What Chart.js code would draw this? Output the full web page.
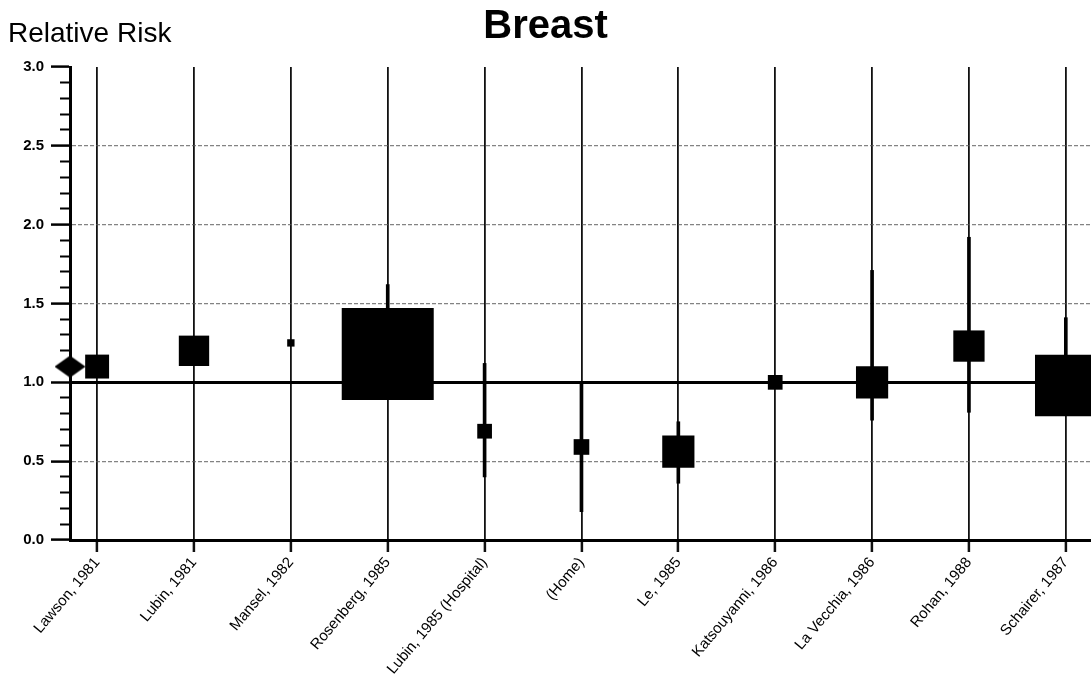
<!DOCTYPE html>
<html>
<head>
<meta charset="utf-8">
<script src="https://cdn.jsdelivr.net/npm/chart.js@4"></script>
<style>
  body { margin: 0; background: #fff; }
  #wrap { width: 1091px; height: 686px; }
</style>
</head>
<body>
<div id="wrap"><canvas id="myChart"></canvas></div>
<script>
// studies along the x axis
const studies = ['Lawson, 1981', 'Lubin, 1981', 'Mansel, 1982', 'Rosenberg, 1985',
  'Lubin, 1985 (Hospital)', '(Home)', 'Le, 1985', 'Katsouyanni, 1986',
  'La Vecchia, 1986', 'Rohan, 1988', 'Schairer, 1987'];
const relativeRisk = [1.10, 1.20, 1.25, 1.18, 0.69, 0.59, 0.56, 1.00, 1.00, 1.23, 0.98];
// confidence limits, null where they can't be seen
const ciLow  = [null, null, null, 0.90, 0.40, 0.18, 0.36, null, 0.76, 0.81, 0.80];
const ciHigh = [null, null, null, 1.62, 1.12, 1.00, 0.75, null, 1.71, 1.92, 1.41];
// relative study weight (biggest study = 100)
const studyWeight = [26, 33, 8, 100, 16, 17, 35, 16, 35, 34, 67];
const pooledRR = 1.10;

const chartTitle = 'Breast';
const yAxisTitle = 'Relative Risk';

const xMin = -0.28, xMax = 10.26;
const boxPx = 0.92; // px of box side per weight unit
const font = '"Liberation Sans", Arial, Helvetica, sans-serif';

function isMajor(v) {
  return Math.abs(v * 2 - Math.round(v * 2)) < 1e-6;
}

// diamond marker for the pooled estimate
function makeDiamond(w, h) {
  const c = document.createElement('canvas');
  c.width = w; c.height = h;
  const g = c.getContext('2d');
  g.fillStyle = '#000';
  g.beginPath();
  g.moveTo(0, h / 2);
  g.lineTo(w / 2, 0);
  g.lineTo(w, h / 2);
  g.lineTo(w / 2, h);
  g.closePath();
  g.fill();
  return c;
}

const cornerLabel = {
  id: 'cornerLabel',
  afterDraw(chart) {
    const ctx = chart.ctx;
    ctx.save();
    ctx.font = '28px ' + font;
    ctx.fillStyle = '#000';
    ctx.textBaseline = 'alphabetic';
    ctx.fillText(yAxisTitle, chart.chartArea.left - 62, chart.chartArea.top - 25);
    ctx.restore();
  }
};

const boxes = studies.map((s, i) => ({ x: i, y: relativeRisk[i] }));
const intervals = studies
  .map((s, i) => (ciLow[i] == null ? null : { x: i, y: [ciLow[i], ciHigh[i]] }))
  .filter(d => d !== null);

const ctx = document.getElementById('myChart');
const myChart = new Chart(ctx, {
  type: 'scatter',
  data: {
    datasets: [
      {
        label: 'Relative risk',
        data: boxes,
        pointStyle: 'rect',
        pointRadius: (c) => studyWeight[c.dataIndex] * boxPx / Math.SQRT2,
        pointHoverRadius: (c) => studyWeight[c.dataIndex] * boxPx / Math.SQRT2,
        backgroundColor: '#000',
        borderWidth: 0
      },
      {
        label: 'Pooled',
        data: [{ x: xMin, y: pooledRR }],
        pointStyle: makeDiamond(31, 22),
        clip: false
      },
      {
        type: 'bar',
        label: '95% CI',
        data: intervals,
        backgroundColor: '#000',
        barThickness: 3
      }
    ]
  },
  options: {
    responsive: true,
    maintainAspectRatio: false,
    animation: false,
    layout: { padding: 0, autoPadding: false },
    scales: {
      x: {
        type: 'linear',
        min: xMin,
        max: xMax,
        offset: false,
        afterBuildTicks: (axis) => {
          axis.ticks = studies.map((s, i) => ({ value: i }));
        },
        afterFit: (scale) => {
          scale.height = 146;
          scale.paddingLeft = 0;
          scale.paddingRight = 0;
        },
        grid: {
          offset: false,
          color: '#111',
          lineWidth: 1.8,
          tickLength: 12,
          tickWidth: 2.5
        },
        border: { color: '#000', width: 3 },
        ticks: {
          autoSkip: false,
          maxRotation: 50,
          minRotation: 50,
          padding: 2,
          color: '#000',
          font: { family: font, size: 15 },
          callback: (v) => studies[v] || ''
        }
      },
      y: {
        min: 0,
        max: 3,
        afterFit: (scale) => {
          scale.width = 70;
          scale.paddingTop = 0;
          scale.paddingBottom = 0;
        },
        grid: {
          color: (c) => {
            const v = c.tick.value;
            if (Math.abs(v - 1) < 1e-6) return '#000';
            if (v > 0.01 && v < 2.99 && isMajor(v)) return 'rgba(90,90,90,0.75)';
            return 'rgba(0,0,0,0)';
          },
          lineWidth: (c) => (Math.abs(c.tick.value - 1) < 1e-6 ? 3 : 1.2),
          tickColor: '#000',
          tickWidth: (c) => (isMajor(c.tick.value) ? 2.5 : 2),
          tickLength: 19,
          tickBorderDash: (c) => (isMajor(c.tick.value) ? [] : [0, 9, 100])
        },
        border: {
          color: '#000',
          width: 3,
          dash: (c) => (Math.abs(c.tick.value - 1) < 1e-6 ? [] : [4, 2])
        },
        ticks: {
          stepSize: 0.1,
          autoSkip: false,
          padding: 7,
          color: '#000',
          font: { family: font, size: 15, weight: 'bold' },
          callback: (v) => (isMajor(v) ? v.toFixed(1) : '')
        }
      }
    },
    plugins: {
      legend: { display: false },
      tooltip: { enabled: false },
      title: {
        display: true,
        text: chartTitle,
        color: '#000',
        font: { family: font, size: 40, weight: 'bold' },
        padding: { top: 3, bottom: 16 }
      }
    }
  },
  plugins: [cornerLabel]
});
</script>
</body>
</html>
